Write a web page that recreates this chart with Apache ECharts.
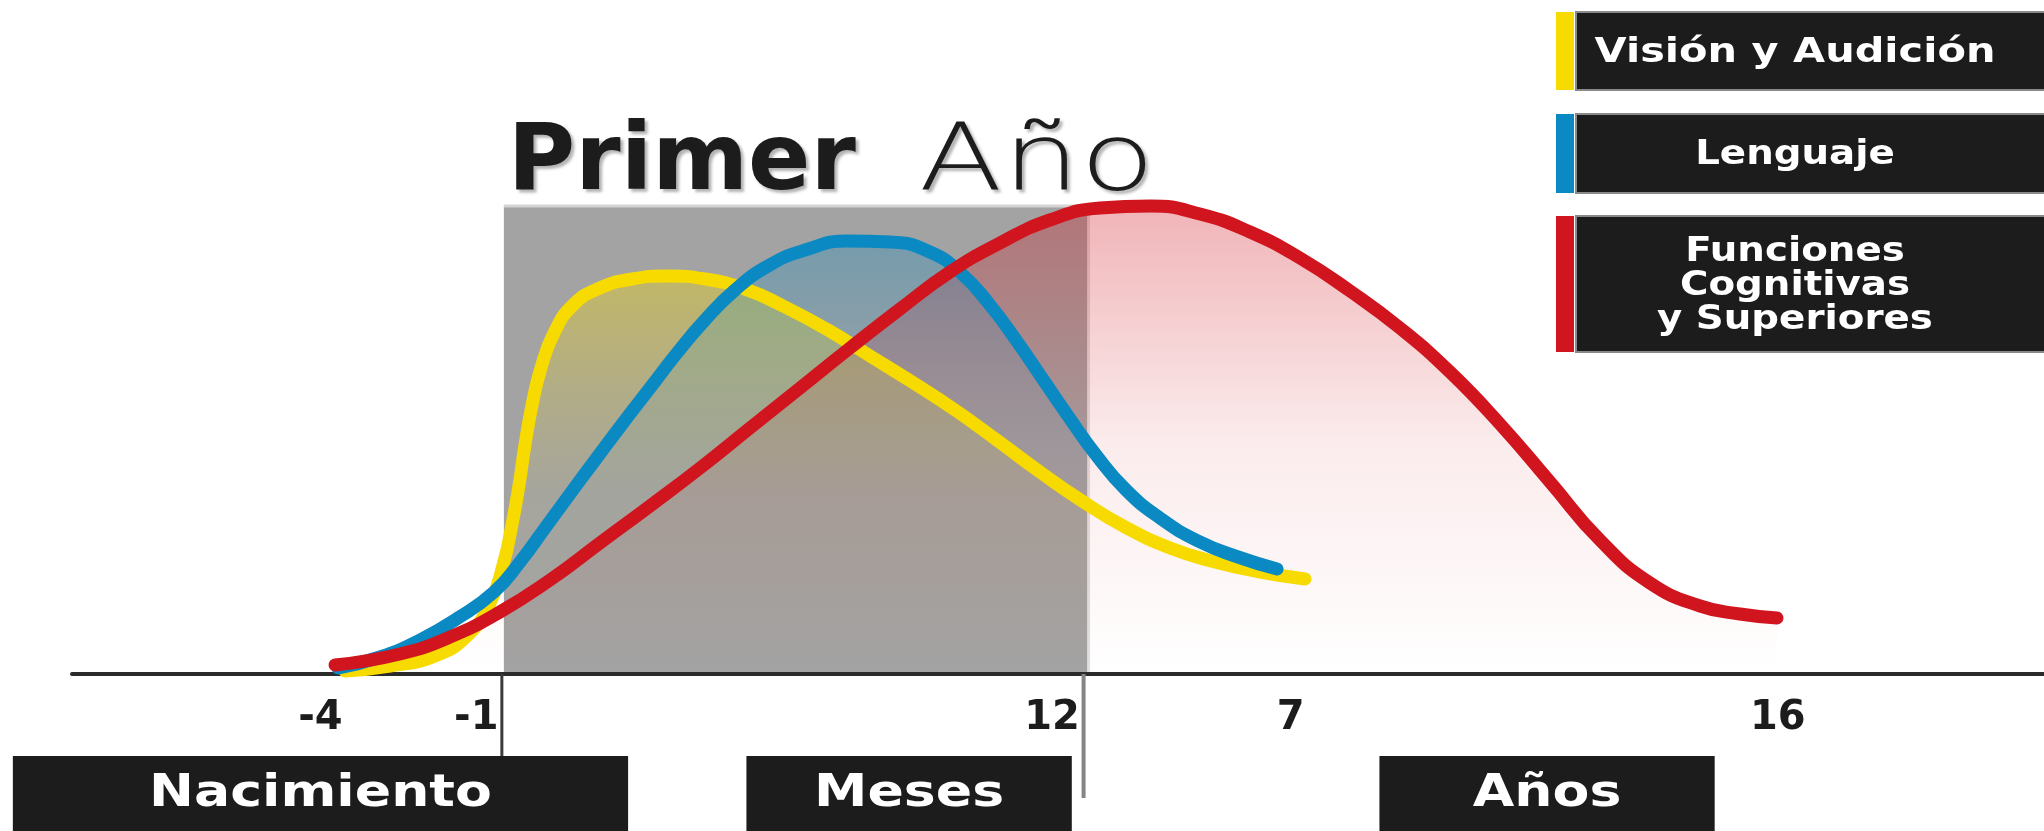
<!DOCTYPE html>
<html><head><meta charset="utf-8">
<style>html,body{margin:0;padding:0;background:#fff}#c{width:2044px;height:831px}</style>
<script src="https://cdn.jsdelivr.net/npm/echarts@6/dist/echarts.min.js"></script>
</head><body><div id="c"></div>
<script>
// ---------------- data ----------------
const seriesNames = ['Visión y Audición', 'Lenguaje', 'Funciones Cognitivas y Superiores'];
const legendLabels = ['Visión y Audición', 'Lenguaje', 'Funciones\nCognitivas\ny Superiores'];
const titleWords = ['Primer', 'Año'];
const tickPositions = [12.6, 20.5, 49.7, 61.8, 86.5];
const tickLabels = ['-4', '-1', '12', '7', '16'];
const periodLabels = ['Nacimiento', 'Meses', 'Años'];
const periodRanges = [[-3.0, 28.2], [34.2, 50.7], [66.3, 83.3]];
const primerAnoRange = [21.9, 51.5];
const primerAnoTop = 93.6;

const visionData = [[13.84,0.6],[16.13,1.6],[18.41,3.6],[20.08,7.8],[21.20,14.2],[21.86,21.8],[22.31,29.8],[22.67,37.8],[22.97,45.8],[23.33,53.8],[23.78,61.2],[24.44,68.2],[25.41,73.8],[26.77,77.2],[28.40,79.0],[30.17,79.6],[32.10,79.0],[34.13,77.0],[36.16,73.4],[38.34,68.8],[40.47,63.6],[42.60,58.4],[44.78,52.8],[46.96,46.6],[49.09,40.4],[51.22,34.6],[53.40,29.4],[55.68,25.2],[57.96,22.4],[60.24,20.4],[62.53,19.0]];
const lenguajeData = [[13.49,1.2],[15.62,3.4],[17.65,6.8],[19.57,11.2],[21.40,16.4],[22.72,22.4],[23.99,29.2],[25.25,36.0],[26.57,43.0],[27.94,50.2],[29.31,57.2],[30.68,64.2],[32.10,70.8],[33.62,76.8],[35.29,81.6],[37.17,84.8],[39.35,86.6],[41.48,86.4],[43.51,84.4],[45.13,80.0],[46.55,73.8],[47.87,66.8],[49.19,59.2],[50.51,51.6],[51.93,43.8],[53.45,36.8],[55.17,31.2],[57.10,26.6],[59.13,23.4],[61.11,21.0]];
const funcionesData = [[13.34,1.8],[16.63,4.0],[19.17,7.4],[21.70,12.4],[24.24,18.8],[26.77,26.2],[29.31,33.6],[31.85,41.2],[34.38,49.2],[36.92,57.2],[39.45,65.2],[41.99,73.0],[44.52,80.4],[47.06,86.2],[49.59,90.8],[52.13,93.2],[54.67,93.6],[57.20,92.0],[59.74,88.4],[62.27,83.2],[64.81,76.6],[67.34,69.2],[69.88,60.4],[72.41,50.0],[74.95,38.4],[77.48,26.8],[80.02,18.2],[82.56,13.6],[84.58,12.0],[86.46,11.2]];

// ---------------- layout / style ----------------
const W = 2044, H = 831;
const G = {left: 72, right: 0, top: 174, bottom: 157};
const X_MIN = 0, X_MAX = 100, Y_MIN = 0, Y_MAX = 100;
const plotW = W - G.left - G.right, plotH = H - G.top - G.bottom;
const pxX = x => G.left + (x - X_MIN) / (X_MAX - X_MIN) * plotW;
const pxY = y => H - G.bottom - (y - Y_MIN) / (Y_MAX - Y_MIN) * plotH;

const colors = ['#f7da00', '#0a89c2', '#d1151f'];
const FONT = '"DejaVu Sans", "Noto Sans", sans-serif';
const SMOOTH = 0.5;

function vgrad(rgb, stops) {
  return new echarts.graphic.LinearGradient(0, 0, 0, 1,
    stops.map(s => ({offset: s[0], color: 'rgba(' + rgb + ',' + s[1] + ')'})));
}

const box = {
  left: pxX(primerAnoRange[0]),
  right: W - pxX(primerAnoRange[1]),
  top: pxY(primerAnoTop),
  bottom: G.bottom
};

const lineBase = {type: 'line', smooth: SMOOTH, symbol: 'none', silent: true};

const option = {
  animation: false,
  backgroundColor: '#ffffff',
  grid: [
    {left: G.left, right: G.right, top: G.top, bottom: G.bottom},
    {left: box.left, right: box.right, top: box.top, bottom: box.bottom,
     show: true, backgroundColor: '#a3a3a3', borderWidth: 0}
  ],
  xAxis: [
    {type: 'value', gridIndex: 0, min: X_MIN, max: X_MAX,
     axisLine: {show: true, lineStyle: {color: '#2b2b2b', width: 4}},
     axisTick: {show: false}, splitLine: {show: false},
     axisLabel: {
       show: true, customValues: tickPositions, margin: 25,
       formatter: v => { const i = tickPositions.findIndex(t => Math.abs(t - v) < 1e-6); return i >= 0 ? tickLabels[i] : ''; },
       fontFamily: FONT, fontWeight: 'bold', fontSize: 40, color: '#1c1c1c'
     }},
    {type: 'value', gridIndex: 1, min: primerAnoRange[0], max: primerAnoRange[1], show: false}
  ],
  yAxis: [
    {type: 'value', gridIndex: 0, min: Y_MIN, max: Y_MAX, show: false},
    {type: 'value', gridIndex: 1, min: Y_MIN, max: primerAnoTop, show: false}
  ],
  series: [
    Object.assign({}, lineBase, {name: seriesNames[2] + ' área', data: funcionesData, xAxisIndex: 0, yAxisIndex: 0,
      lineStyle: {width: 0}, areaStyle: {color: vgrad('209,21,31', [[0,0.46],[0.5,0.12],[1,0]])}, z: 2}),
    Object.assign({}, lineBase, {name: seriesNames[0] + ' área', data: visionData, xAxisIndex: 1, yAxisIndex: 1,
      lineStyle: {width: 0}, areaStyle: {color: vgrad('247,218,0', [[0,0.52],[0.3,0.24],[0.55,0.05],[1,0]])}, z: 2}),
    Object.assign({}, lineBase, {name: seriesNames[1] + ' área', data: lenguajeData, xAxisIndex: 1, yAxisIndex: 1,
      lineStyle: {width: 0}, areaStyle: {color: vgrad('10,137,194', [[0,0.42],[0.3,0.16],[0.6,0.02],[1,0]])}, z: 2}),
    Object.assign({}, lineBase, {name: seriesNames[0], data: visionData, xAxisIndex: 0, yAxisIndex: 0,
      lineStyle: {color: colors[0], width: 13, cap: 'round'}, z: 3}),
    Object.assign({}, lineBase, {name: seriesNames[1], data: lenguajeData, xAxisIndex: 0, yAxisIndex: 0,
      lineStyle: {color: colors[1], width: 13, cap: 'round'}, z: 4}),
    Object.assign({}, lineBase, {name: seriesNames[2], data: funcionesData, xAxisIndex: 0, yAxisIndex: 0,
      lineStyle: {color: colors[2], width: 13, cap: 'round'}, z: 5})
  ]
};

const chart = echarts.init(document.getElementById('c'), null, {renderer: 'canvas', width: W, height: H});
chart.setOption(option);

// ---------------- annotations placed through the axis scale ----------------
const toPx = (x, y) => chart.convertToPixel({gridIndex: 0}, [x, y]);
const axisY = toPx(0, 0)[1];
const bx0 = toPx(primerAnoRange[0], 0)[0];
const bx1 = toPx(primerAnoRange[1], 0)[0];
const boxTopPx = toPx(0, primerAnoTop)[1];
const graphics = [];

function label(text, cx, cy, font, fill, sx, align, extra) {
  return Object.assign({type: 'text', x: cx, y: cy, scaleX: sx, z: 21,
    style: Object.assign({text: text, x: 0, y: 0, align: align || 'center', verticalAlign: 'middle', font: font, fill: fill}, extra || {})});
}

// title "Primer Año" above the box
const shadow = {textShadowColor: 'rgba(0,0,0,0.3)', textShadowBlur: 3, textShadowOffsetX: 3, textShadowOffsetY: 3};
graphics.push(label(titleWords[0], bx0 + 4, 165, 'bold 92px ' + FONT, '#1c1c1c', 1.0, 'left', shadow));
graphics.push(label(titleWords[1], bx0 + 415, 165, '200 92px ' + FONT, '#1c1c1c', 1.33, 'left', shadow));

// vertical markers at the box edges (below the axis)
graphics.push({type: 'line', shape: {x1: bx0 - 2, y1: axisY, x2: bx0 - 2, y2: 757}, style: {stroke: '#3a3a3a', lineWidth: 3}, z: 10});
graphics.push({type: 'line', shape: {x1: bx1 - 4, y1: axisY, x2: bx1 - 4, y2: 798}, style: {stroke: '#858585', lineWidth: 4}, z: 10});
graphics.push({type: 'line', shape: {x1: bx1 + 1, y1: boxTopPx, x2: bx1 + 1, y2: axisY - 2}, style: {stroke: 'rgba(225,220,220,0.9)', lineWidth: 3}, z: 1});
graphics.push({type: 'line', shape: {x1: bx0, y1: boxTopPx, x2: bx1, y2: boxTopPx}, style: {stroke: '#d4d4d4', lineWidth: 3}, z: 1});

// period boxes under the axis
periodLabels.forEach((lab, i) => {
  const x0 = toPx(periodRanges[i][0], 0)[0], x1 = toPx(periodRanges[i][1], 0)[0];
  graphics.push({type: 'rect', shape: {x: x0, y: 756, width: x1 - x0, height: H - 756}, style: {fill: '#1c1c1c'}, z: 20});
  graphics.push(label(lab, (x0 + x1) / 2, 795, 'bold 44px ' + FONT, '#ffffff', 1.22));
});

// legend panels (top right)
const legendBoxes = [[12, 78], [114, 79], [216, 136]];
const legendScale = [1.22, 1.14, 1.14];
legendLabels.forEach((lab, i) => {
  const [y, h] = legendBoxes[i];
  graphics.push({type: 'rect', shape: {x: 1556, y: y, width: 18, height: h}, style: {fill: colors[i]}, z: 20});
  graphics.push({type: 'rect', shape: {x: 1576, y: y, width: W - 1576 + 4, height: h}, style: {fill: '#1c1c1c', stroke: '#8a8a8a', lineWidth: 2}, z: 20});
  graphics.push(label(lab, 1795, y + h / 2 + 2, 'bold 34px ' + FONT, '#ffffff', legendScale[i], 'center', {lineHeight: 34}));
});

chart.setOption({graphic: graphics});
</script>
</body></html>
